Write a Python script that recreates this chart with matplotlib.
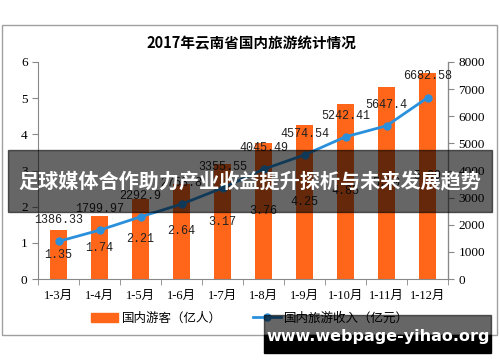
import matplotlib.pyplot as plt
from matplotlib.patches import Rectangle
from matplotlib.lines import Line2D

plt.rcParams['font.family'] = ['Liberation Serif', 'Noto Sans CJK SC']

months = ["1-3月", "1-4月", "1-5月", "1-6月", "1-7月", "1-8月", "1-9月", "1-10月", "1-11月", "1-12月"]
tourists = [1.35, 1.74, 2.21, 2.64, 3.17, 3.76, 4.25, 4.85, 5.30, 5.69]
income = [1386.33, 1799.97, 2292.9, 2758.8, 3355.55, 4045.49, 4574.54, 5242.41, 5647.4, 6682.58]
income_labels = ["1386.33", "1799.97", "2292.9", "2758.8", "3355.55", "4045.49",
                 "4574.54", "5242.41", "5647.4", "6682.58"]

W, H = 500, 362
bar_color = "#FF6619"
line_color = "#2A90DC"
num_font = ["Liberation Mono", "Noto Sans CJK SC"]
cjk_font = ["Noto Sans CJK SC", "DejaVu Sans"]

fig = plt.figure(figsize=(W / 100, H / 100), dpi=100)

# outer frame
fig.patches.append(Rectangle((2 / W, 1 - 335 / H), 495 / W, 310 / H, transform=fig.transFigure,
                             fill=False, edgecolor="#A0A0A0", linewidth=1))

fig.text(251 / W, 1 - 43 / H, "2017年云南省国内旅游统计情况", ha="center", va="center",
         fontsize=10.5, fontweight="bold", family=cjk_font)

ax = fig.add_axes([38 / W, 1 - 279 / H, 410 / W, 217 / H])
ax2 = ax.twinx()
x = list(range(len(months)))

ax.bar(x, tourists, width=0.42, color=bar_color, zorder=2)
for xi, v in zip(x, tourists):
    ax.text(xi, v / 2, f"{v:.2f}", ha="center", va="center", fontsize=8.5,
            family=num_font, color="#222222", zorder=5)

ax.set_xlim(-0.5, len(months) - 0.5)
ax.set_ylim(0, 6)
ax.set_yticks(range(0, 7))
ax.set_xticks(x)
ax.set_xticklabels(months, fontsize=9)
ax.set_xticks([i + 0.5 for i in range(-1, len(months))], minor=True)
ax.tick_params(axis="x", which="major", length=0, pad=8)
ax.tick_params(axis="x", which="minor", length=4, color="#888888")
ax.tick_params(axis="y", length=4, color="#888888", labelsize=9.5)
ax.spines["top"].set_visible(False)
for s in ["left", "bottom"]:
    ax.spines[s].set_color("#888888")

ax2.plot(x, income, color=line_color, linewidth=2, marker="o", markersize=5, zorder=3)
for xi, v, t in zip(x, income, income_labels):
    ax2.annotate(t, (xi, v), xytext=(0, 11), textcoords="offset points", ha="center",
                 va="bottom", fontsize=8.5, family=num_font, color="#222222")
ax2.set_ylim(0, 8000)
ax2.set_yticks(range(0, 8001, 1000))
ax2.tick_params(axis="y", length=4, color="#888888", labelsize=9.5)
ax2.spines["top"].set_visible(False)
ax2.spines["right"].set_color("#888888")
ax2.spines["left"].set_visible(False)
ax2.spines["bottom"].set_visible(False)

# legend
handles = [Rectangle((0, 0), 1, 1, color=bar_color),
           Line2D([0], [0], color=line_color, linewidth=2, marker="o", markersize=5)]
fig.legend(handles, ["国内游客（亿人）", "国内旅游收入（亿元）"], loc="center",
           bbox_to_anchor=(250 / W, 1 - 318 / H), ncol=2, frameon=False,
           prop={"family": cjk_font, "size": 9},
           handlelength=2.2, columnspacing=2.5, handletextpad=0.3)

# overlay banner
fig.patches.append(Rectangle((8 / W, 1 - 212 / H), 484 / W, 62 / H, transform=fig.transFigure,
                             color="black", alpha=0.6, zorder=10))
fig.text(250 / W, 1 - 182 / H, "足球媒体合作助力产业收益提升探析与未来发展趋势", ha="center",
         va="center", fontsize=14.5, fontweight="bold", color="white", family=cjk_font,
         zorder=11)

# bottom url box
fig.patches.append(Rectangle((264 / W, 1 - 335 / H), 227 / W, 20 / H, transform=fig.transFigure,
                             color="black", alpha=0.6, zorder=10))
fig.patches.append(Rectangle((264 / W, 1 - 353 / H), 227 / W, 18 / H, transform=fig.transFigure,
                             color="black", zorder=10))
fig.text(378 / W, 1 - 336 / H, "www.webpage-yihao.org", ha="center", va="center",
         fontsize=11.5, fontweight="bold", color="white", family=["DejaVu Sans"], zorder=11)

fig.savefig("out.png", dpi=100)
